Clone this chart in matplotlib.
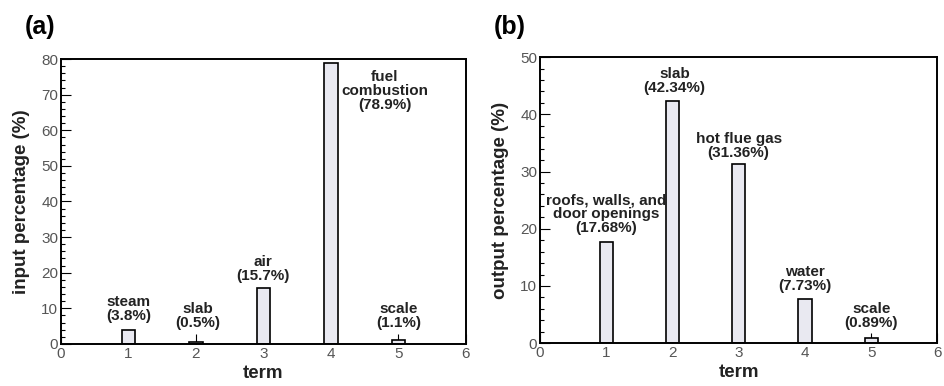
import matplotlib
matplotlib.use("Agg")
import matplotlib.pyplot as plt
from matplotlib.ticker import MultipleLocator

plt.rcParams["font.family"] = ["Liberation Sans", "DejaVu Sans"]

# input terms (a)
in_terms = [1, 2, 3, 4, 5]
in_values = [3.8, 0.5, 15.7, 78.9, 1.1]
in_names = ["steam", "slab", "air", "fuel\ncombustion", "scale"]

# output terms (b)
out_terms = [1, 2, 3, 4, 5]
out_values = [17.68, 42.34, 31.36, 7.73, 0.89]
out_names = ["roofs, walls, and\ndoor openings", "slab", "hot flue gas", "water", "scale"]

# where each label sits (x, y of text bottom, data units)
in_label_pos = [(1.0, 5.9), (2.03, 3.9), (2.99, 17.1), (4.8, 65.0), (5.0, 3.9)]
out_label_pos = [(1.0, 18.9), (2.03, 43.4), (3.0, 32.0), (4.0, 8.7), (5.0, 2.3)]

BAR_W = 0.2
FILL = "#e9e9f1"
TICK_C = "#555555"
TEXT_C = "#222222"

fig = plt.figure(figsize=(9.44, 3.86), dpi=100)
ax_a = fig.add_axes([0.0646, 0.109, 0.429, 0.738])
ax_b = fig.add_axes([0.572, 0.111, 0.421, 0.741])


def draw(ax, terms, values, names, pos, ymax, ylabel):
    ax.bar(terms, values, width=BAR_W, color=FILL, edgecolor="black", linewidth=1.2, zorder=2)
    for v, n, (x, y) in zip(values, names, pos):
        ax.text(x, y, f"{n}\n({v}%)", ha="center", va="bottom", fontsize=11,
                fontweight="bold", color=TEXT_C, linespacing=1.0)
    ax.set_xlim(0, 6)
    ax.set_ylim(0, ymax)
    ax.yaxis.set_minor_locator(MultipleLocator(2))
    ax.tick_params(axis="both", which="both", direction="in", colors="black",
                   labelcolor=TICK_C, labelsize=11, width=0.8, pad=2)
    ax.tick_params(axis="both", which="major", length=7)
    ax.tick_params(axis="y", which="minor", length=3)
    for s in ax.spines.values():
        s.set_linewidth(1.4)
    ax.set_xlabel("term", fontsize=13.5, fontweight="bold", color=TEXT_C, labelpad=3)
    ax.set_ylabel(ylabel, fontsize=13.5, fontweight="bold", color=TEXT_C, labelpad=8)


draw(ax_a, in_terms, in_values, in_names, in_label_pos, 80, "input percentage (%)")
draw(ax_b, out_terms, out_values, out_names, out_label_pos, 50, "output percentage (%)")

fig.text(0.026, 0.912, "(a)", fontsize=18, fontweight="bold")
fig.text(0.523, 0.912, "(b)", fontsize=18, fontweight="bold")

fig.savefig("out.png", dpi=100)
